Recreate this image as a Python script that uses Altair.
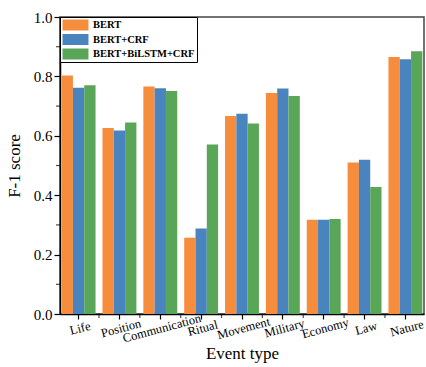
import altair as alt
import pandas as pd

events = ["Life", "Position", "Communication", "Ritual", "Movement",
          "Military", "Economy", "Law", "Nature"]
models = ["BERT", "BERT+CRF", "BERT+BiLSTM+CRF"]
bert = [0.803, 0.626, 0.766, 0.257, 0.667, 0.744, 0.317, 0.510, 0.865]
bert_crf = [0.762, 0.618, 0.760, 0.288, 0.674, 0.759, 0.317, 0.519, 0.858]
bert_bilstm_crf = [0.770, 0.645, 0.751, 0.571, 0.641, 0.734, 0.320, 0.428, 0.885]
colors = ["#F68D3C", "#4A84BE", "#5AA659"]
y_major = [0.0, 0.2, 0.4, 0.6, 0.8, 1.0]
y_minor = [0.1, 0.3, 0.5, 0.7, 0.9]

rows = []
for m, vals in zip(models, [bert, bert_crf, bert_bilstm_crf]):
    for e, v in zip(events, vals):
        rows.append({"event": e, "model": m, "score": v})
df = pd.DataFrame(rows)
df_minor_y = pd.DataFrame({"v": y_minor})
df_minor_x = pd.DataFrame({"event": events[1:]})

FONT = "Liberation Serif"
pin = 0.17
x_scale = alt.Scale(domain=events, paddingInner=pin, paddingOuter=0.04)
y_scale = alt.Scale(domain=[0, 1], nice=False)

bars = alt.Chart(df).mark_bar().encode(
    x=alt.X("event:N", scale=x_scale, sort=events, title="Event type",
            axis=alt.Axis(labelAngle=345, labelAlign="center", labelBaseline="top",
                          labelFontSize=12.5, labelOverlap=False, labelPadding=3,
                          tickSize=5, tickColor="black", domainColor="black",
                          domainWidth=1.5, tickWidth=1.2,
                          titleFontSize=17, titlePadding=1)),
    xOffset=alt.XOffset("model:N", sort=models,
                        scale=alt.Scale(domain=models, paddingInner=0, paddingOuter=0)),
    y=alt.Y("score:Q", scale=y_scale, title="F-1 score",
            axis=alt.Axis(values=y_major, format=".1f", labelFontSize=15,
                          tickSize=6, tickColor="black", domainColor="black",
                          domainWidth=1.5, tickWidth=1.2, labelPadding=2,
                          titleFontSize=17, titlePadding=10, grid=False)),
    color=alt.Color("model:N", sort=models,
                    scale=alt.Scale(domain=models, range=colors),
                    legend=alt.Legend(title=None, orient="none", legendX=0, legendY=0,
                                      symbolType="M-2.36,-1H2.36V1H-2.36Z",
                                      symbolSize=121, symbolStrokeWidth=0,
                                      symbolOffset=7.5, rowPadding=3.5,
                                      labelOffset=12,
                                      labelFont=FONT, labelFontSize=10.5,
                                      labelFontWeight="bold", labelColor="black",
                                      padding=2.5, strokeColor="black",
                                      fillColor="white", symbolOpacity=1)),
)

minor_y = alt.Chart(df_minor_y).mark_tick(color="black", size=4, thickness=1.2,
                                           orient="horizontal").encode(
    y=alt.Y("v:Q", scale=y_scale), x=alt.value(-2))

minor_x = alt.Chart(df_minor_x).mark_tick(color="black", size=4, thickness=1.2,
                                           orient="vertical", xOffset=-3.5).encode(
    x=alt.X("event:N", scale=x_scale, sort=events, bandPosition=0),
    y=alt.value(299))

chart = alt.layer(bars, minor_y, minor_x).properties(
    width=364, height=297,
    autosize=alt.AutoSizeParams(type="none"),
    padding={"left": 60, "top": 17, "right": 2, "bottom": 53},
).configure(font=FONT).configure_view(
    stroke="#444", strokeWidth=1.5
).configure_axis(
    labelFont=FONT, titleFont=FONT, labelColor="black", titleColor="black",
    titleFontWeight="normal"
)

chart.save("out.html", embed_options={"renderer": "svg", "actions": False})
